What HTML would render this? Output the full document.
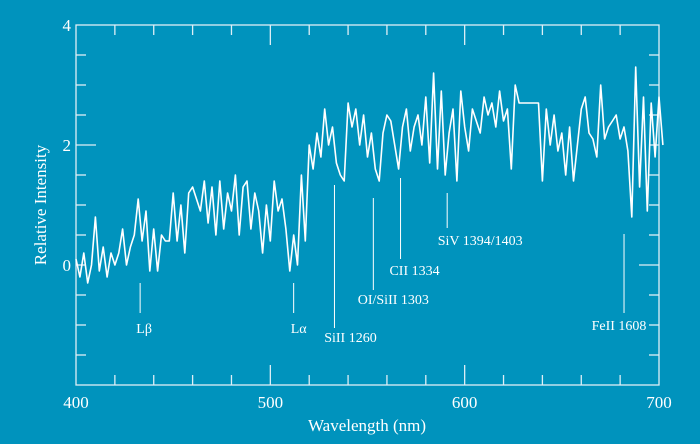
<!DOCTYPE html>
<html><head><meta charset="utf-8"><style>
html,body{margin:0;padding:0;background:#0093bd;}
svg{display:block;font-family:"Liberation Serif",serif;}
</style></head><body>
<svg id="chart" width="700" height="444" viewBox="0 0 700 444">
<rect x="0" y="0" width="700" height="444" fill="#0093bd"/>
<g id="axes"></g>
<g id="series"></g>
<g id="annot"></g>
<text x="367" y="431" fill="#fff" font-size="17" text-anchor="middle">Wavelength (nm)</text>
<text transform="translate(46,205) rotate(-90)" fill="#fff" font-size="17" text-anchor="middle">Relative Intensity</text>
</svg>
<script>
const xTicks=[400,500,600,700];
const yTicks=[0,2,4];
const wlStart=400, wlStep=2;
const intensity=[
0.1,-0.2,0.2,-0.3,0.0,0.8,-0.1,0.3,-0.2,0.2,0.0,
0.2,0.6,0.0,0.3,0.5,1.1,0.4,0.9,-0.1,0.6,
-0.1,0.5,0.4,0.4,1.2,0.4,1.0,0.2,1.2,1.3,
1.1,0.9,1.4,0.7,1.3,0.5,1.4,0.6,1.2,0.9,
1.5,0.5,1.3,1.4,0.6,1.2,0.9,0.2,1.0,0.4,
1.4,0.9,1.1,0.6,-0.1,0.5,0.0,1.5,0.4,2.0,
1.6,2.2,1.8,2.6,2.0,2.3,1.7,1.5,1.4,2.7,
2.3,2.6,2.0,2.5,1.8,2.2,1.6,1.4,2.2,2.5,
2.4,2.0,1.6,2.3,2.6,1.9,2.3,2.5,2.0,2.8,
1.7,3.2,1.6,2.9,1.5,2.2,2.6,1.4,2.9,2.3,
1.9,2.6,2.4,2.2,2.8,2.5,2.7,2.3,2.9,2.4,
2.6,1.6,3.0,2.7,2.7,2.7,2.7,2.7,2.7,1.4,
2.6,2.0,2.5,1.9,2.2,1.5,2.3,1.4,2.0,2.6,
2.8,2.2,2.1,1.8,3.0,2.1,2.3,2.4,2.5,2.1,
2.3,1.9,0.8,3.3,1.3,2.8,0.9,2.7,1.8,2.8,2.0
];
const lineLabels=["Lβ","Lα","SiII 1260","OI/SiII 1303","CII 1334","SiV 1394/1403","FeII 1608"];
const lineWl=[433,512,533,553,567,591,682];
const x0=76,x1=659,yTop=25,yBot=385,xMin=400,xMax=700,yMin=-2,yMax=4;
const X=v=>x0+(v-xMin)/(xMax-xMin)*(x1-x0);
const Y=v=>yBot-(v-yMin)/(yMax-yMin)*(yBot-yTop);
const NS="http://www.w3.org/2000/svg";
function mk(tag,attrs,parent,text){const e=document.createElementNS(NS,tag);for(const k in attrs)e.setAttribute(k,attrs[k]);if(text!==undefined)e.textContent=text;parent.appendChild(e);return e;}
const axes=document.getElementById('axes');
const frame=mk('rect',{x:x0,y:yTop,width:x1-x0,height:yBot-yTop,fill:'none',stroke:'#dfeff6','stroke-width':1.3},axes);


for(let w=420;w<700;w+=20){
  const L=(w%100===0)?20:10;
  const t1=mk('line',{x1:X(w),x2:X(w),y1:yTop,y2:yTop+L,stroke:'#dfeff6','stroke-width':1.3},axes);
  
  
  const t2=mk('line',{x1:X(w),x2:X(w),y1:yBot,y2:yBot-L,stroke:'#dfeff6','stroke-width':1.3},axes);
  
  
}
for(let v=-1.5;v<4;v+=0.5){
  const l1=(v===2)?20:10, l2=(v===0)?20:10;
  const a=mk('line',{x1:x0,x2:x0+l1,y1:Y(v),y2:Y(v),stroke:'#dfeff6','stroke-width':1.3},axes);
  
  
  const b=mk('line',{x1:x1,x2:x1-l2,y1:Y(v),y2:Y(v),stroke:'#dfeff6','stroke-width':1.3},axes);
  
  
}
xTicks.forEach(t=>{const e=mk('text',{x:X(t),y:408,fill:'#fff','font-size':17,'text-anchor':'middle'},axes,String(t));
  
  });
yTicks.forEach(t=>{const e=mk('text',{x:71,y:Y(t)+6,fill:'#fff','font-size':17,'text-anchor':'end'},axes,String(t));
  
  });
const pts=intensity.map((v,i)=>X(wlStart+i*wlStep).toFixed(1)+','+Y(v).toFixed(1)).join(' ');
const pl=mk('polyline',{points:pts,fill:'none',stroke:'#fff','stroke-width':1.6,'stroke-linejoin':'round'},document.getElementById('series'));


const annot=document.getElementById('annot');
const tickTop=[283,283,185,198,178,193,234], tickBot=[313,313,328,290,259,228,313], labelY=[333,333,342,304,275,245,330];
lineLabels.forEach((lab,i)=>{
  const x=X(lineWl[i]);
  const l=mk('line',{x1:x,x2:x,y1:tickTop[i],y2:tickBot[i],stroke:'#fff','stroke-width':1},annot);
  
  
  const t=mk('text',{x:x+(i===0?4:i===1?5:i===2?16:i===3?20:i===4?14:i===5?33:-5),y:labelY[i],fill:'#fff','font-size':14,'text-anchor':'middle'},annot,lab);
  
  
});
</script>
</body></html>
